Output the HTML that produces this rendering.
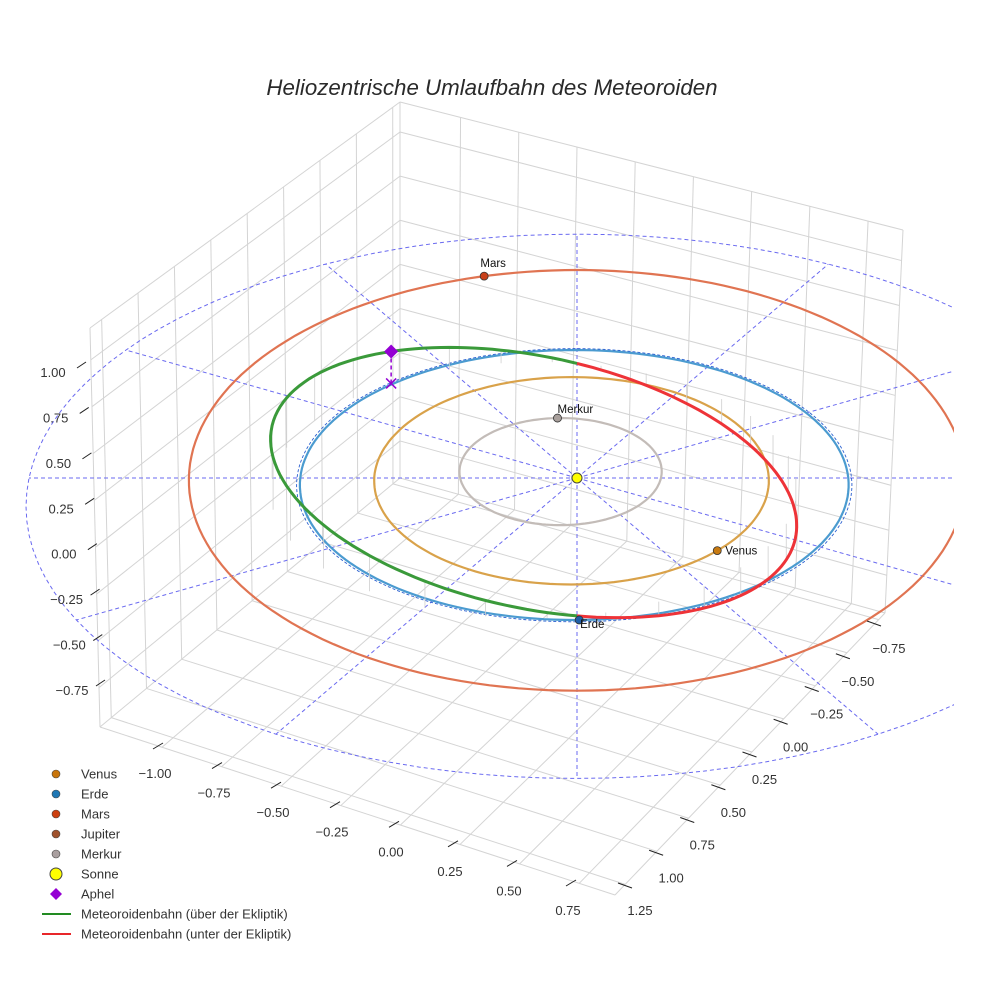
<!DOCTYPE html>
<html><head><meta charset="utf-8">
<style>
html,body{margin:0;padding:0;background:#fff;}
svg{display:block;font-family:"Liberation Sans",Arial,sans-serif;}
</style></head>
<body>
<svg id="chart" width="984" height="984" viewBox="0 0 984 984" xmlns="http://www.w3.org/2000/svg">
<rect width="984" height="984" fill="#fff"/>
<text x="492" y="95" text-anchor="middle" font-size="22.3" font-style="italic" fill="#2a2a2a">Heliozentrische Umlaufbahn des Meteoroiden</text>
<defs><clipPath id="sc"><rect x="0" y="100" width="954" height="800"/></clipPath></defs>
<g id="grid"></g>
<g id="scene" clip-path="url(#sc)"></g>
<g id="axes"></g>
<g id="legend"></g>
</svg>
<script>
// ---- data ----
const xTicks=[-1.00,-0.75,-0.50,-0.25,0.00,0.25,0.50,0.75];
const yTicks=[1.25,1.00,0.75,0.50,0.25,0.00,-0.25,-0.50,-0.75];
const zTicks=[1.00,0.75,0.50,0.25,0.00,-0.25,-0.50,-0.75];
const planetNames=["Merkur","Venus","Erde","Mars"];
const orbitCu=[-0.06,-0.02,-0.01,0.0];
const orbitCv=[-0.056,-0.01,0.0,-0.11];
const orbitRu=[0.37,0.72,1.0,1.42];
const orbitRv=[0.40,0.77,1.0,1.57];
const planetAngle=[-92,44,89,-105];
const orbitColors=["#c3bcb8","#d9a24a","#4b9bd0","#e07452"];
const planetColors=["#a9a09c","#c87a10","#1f5fa8","#c8401a"];
const meteorP=0.93, meteorE=0.17, meteorPeri=15, meteorIncl=15;
const aphelAngle=134;
const refRadius=2.0;
const radialAngles=[0,30,60,90,120,150,180,210,240,270,300,330];
const legendLabels=["Venus","Erde","Mars","Jupiter","Merkur","Sonne","Aphel","Meteoroidenbahn (über der Ekliptik)","Meteoroidenbahn (unter der Ekliptik)"];
const legendColors=["#c8750b","#1f77b4","#cc4010","#a0522d","#aaa0a0","#ffff00","#9400d3","#228b22","#e8262a"];
const xRange=[-1.26,0.9], yRange=[-0.80,1.33], zRange=[-0.96,1.17];

const NS="http://www.w3.org/2000/svg";
function mk(tag,attrs,parent){const e=document.createElementNS(NS,tag);for(const k in attrs)e.setAttribute(k,attrs[k]);parent.appendChild(e);return e;}
function P(u,v,z){const s=1/(1-0.052*v);return [577+274*u*s,478+(134.6*v-182*z)*s];}
function lerp(a,b,t){return [a[0]+(b[0]-a[0])*t,a[1]+(b[1]-a[1])*t];}
const grid=document.getElementById('grid'),scene=document.getElementById('scene'),axes=document.getElementById('axes'),legend=document.getElementById('legend');

const A=[400,102],L=[90,328],R=[903,230],A2=[400,478],L2=[100,727],R2=[885,613],F2=[615,895];
const fx=t=>(t-xRange[0])/(xRange[1]-xRange[0]);
const fy=t=>(yRange[1]-t)/(yRange[1]-yRange[0]);
const fz=t=>(zRange[1]-t)/(zRange[1]-zRange[0]);
function gl(p,q,name){const e=mk('line',{x1:p[0],y1:p[1],x2:q[0],y2:q[1],stroke:'#d4d4d4','stroke-width':1},grid);

}
[[A,L],[A,R],[L,L2],[R,R2],[A,A2],[L2,F2],[F2,R2],[L2,A2],[A2,R2]].forEach(p=>gl(p[0],p[1],'box-edge'));
xTicks.forEach(t=>{const f=fx(t);gl(lerp(A,R,f),lerp(A2,R2,f),'back-wall-x-gridline');gl(lerp(L2,F2,f),lerp(A2,R2,f),'floor-x-gridline');});
zTicks.forEach(t=>{const f=fz(t);gl(lerp(A,A2,f),lerp(R,R2,f),'back-wall-z-gridline');gl(lerp(L,L2,f),lerp(A,A2,f),'left-wall-z-gridline');});
yTicks.forEach(t=>{const f=fy(t);gl(lerp(L,A,f),lerp(L2,A2,f),'left-wall-y-gridline');gl(lerp(L2,A2,f),lerp(F2,R2,f),'floor-y-gridline');});

function tl(x,y,txt,name,ox1,oy1,ox2,oy2,anchor){
 const t=mk('text',{x:x,y:y+5,'text-anchor':anchor,'font-size':13,fill:'#333'},axes);t.textContent=txt;
 
 
 const m=mk('line',{x1:x+ox1,y1:y+oy1,x2:x+ox2,y2:y+oy2,stroke:'#222','stroke-width':1},axes);
 
 }
const fmt=v=>(v<0?'\u2212':'')+Math.abs(v).toFixed(2);
zTicks.forEach(t=>{const p=lerp([53,372],[72,690],(1-t)/1.75);tl(p[0],p[1],fmt(t),'z-tick-label',24,-4,33,-10,'middle');});
xTicks.forEach(t=>{const p=lerp([155,773],[568,910],(t+1)/1.75);tl(p[0],p[1],fmt(t),'x-tick-label',-2,-24,8,-30,'middle');});
yTicks.forEach(t=>{const p=lerp([640,910],[889,648],(1.25-t)/2);tl(p[0],p[1],fmt(t),'y-tick-label',-22,-27,-8,-22,'middle');});

let d='';for(let a=0;a<=360;a+=3){const r=a*Math.PI/180;const p=P(refRadius*Math.cos(r),-refRadius*Math.sin(r),0);d+=(a?'L':'M')+p[0].toFixed(1)+','+p[1].toFixed(1);}
let e=mk('path',{d:d,fill:'none',stroke:'#6a6af0','stroke-width':1,'stroke-dasharray':'4,3'},scene);


radialAngles.forEach(a=>{const r=a*Math.PI/180;const p=P(refRadius*Math.cos(r),-refRadius*Math.sin(r),0);const o=P(0,0,0);
 const l=mk('line',{x1:o[0],y1:o[1],x2:p[0],y2:p[1],stroke:'#6a6af0','stroke-width':1,'stroke-dasharray':'4,3'},scene);
 
 });

function orbitPt(i,deg,k){k=k||1;const t=deg*Math.PI/180;return P(orbitCu[i]+orbitRu[i]*k*Math.cos(t),orbitCv[i]+orbitRv[i]*k*Math.sin(t),0);}
planetNames.forEach((n,i)=>{let d='';for(let a=0;a<=360;a+=2){const p=orbitPt(i,a);d+=(a?'L':'M')+p[0].toFixed(1)+','+p[1].toFixed(1);}
 const o=mk('path',{d:d,fill:'none',stroke:orbitColors[i],'stroke-width':2.2},scene);
 
 });
{let d='';for(let a=0;a<=360;a+=2){const p=orbitPt(2,a,1.012);d+=(a?'L':'M')+p[0].toFixed(1)+','+p[1].toFixed(1);}
 e=mk('path',{d:d,fill:'none',stroke:'#2a5fd0','stroke-width':0.9,'stroke-dasharray':'3,2'},scene);
 
 }

function met(deg){const f=deg*Math.PI/180;const r=meteorP/(1+meteorE*Math.cos(f-meteorPeri*Math.PI/180));const si=Math.sin(meteorIncl*Math.PI/180);
 return {u:r*Math.cos(f),v:-r*Math.sin(f),z:-r*si*Math.cos(f)};}
for(let a=0;a<360;a+=12){const m=met(a);const p=P(m.u,m.v,m.z),q=P(m.u,m.v,0);
 const l=mk('line',{x1:p[0],y1:p[1],x2:q[0],y2:q[1],stroke:'#cfcfcf','stroke-width':0.8},scene);
 
 }
let dg='',dr='';
for(let a=90;a<=270;a+=2){const m=met(a);const p=P(m.u,m.v,m.z);dg+=(a>90?'L':'M')+p[0].toFixed(1)+','+p[1].toFixed(1);}
for(let a=-90;a<=90;a+=2){const m=met(a);const p=P(m.u,m.v,m.z);dr+=(a>-90?'L':'M')+p[0].toFixed(1)+','+p[1].toFixed(1);}
e=mk('path',{d:dg,fill:'none',stroke:'#3a9a3a','stroke-width':3},scene);


e=mk('path',{d:dr,fill:'none',stroke:'#ee3338','stroke-width':3},scene);



{const m=met(aphelAngle);const p=P(m.u,m.v,m.z),q=P(m.u,m.v,0);
 e=mk('line',{x1:p[0],y1:p[1],x2:q[0],y2:q[1],stroke:'#9400d3','stroke-width':1.5,'stroke-dasharray':'4,3'},scene);
 
 
 e=mk('path',{d:`M${q[0]-5},${q[1]-5}L${q[0]+5},${q[1]+5}M${q[0]+5},${q[1]-5}L${q[0]-5},${q[1]+5}`,stroke:'#9400d3','stroke-width':1.5},scene);
 
 
 e=mk('path',{d:`M${p[0]},${p[1]-7}L${p[0]+7},${p[1]}L${p[0]},${p[1]+7}L${p[0]-7},${p[1]}Z`,fill:'#9400d3'},scene);
 
 }

const labelOff=[[0,-5,'start'],[8,4,'start'],[1,8,'start'],[9,-9,'middle']];
planetNames.forEach((n,i)=>{const p=orbitPt(i,planetAngle[i]);
 const c=mk('circle',{cx:p[0],cy:p[1],r:4,fill:planetColors[i],stroke:'#333','stroke-width':0.8},scene);
 
 
 const t=mk('text',{x:p[0]+labelOff[i][0],y:p[1]+labelOff[i][1],'text-anchor':labelOff[i][2],'font-size':11.5,fill:'#111'},scene);
 t.textContent=n;
 
 });
{const o=P(0,0,0);e=mk('circle',{cx:o[0],cy:o[1],r:5,fill:'#ffff00',stroke:'#444','stroke-width':1},scene);
 
 }

legendLabels.forEach((lab,i)=>{const y=774+i*20;
 if(i<6){const m=mk('circle',{cx:56,cy:y,r:i==5?6:4,fill:legendColors[i],stroke:'#444','stroke-width':i==5?1:0.6},legend);
  
  }
 else if(i==6){const m=mk('path',{d:`M56,${y-6}L62,${y}L56,${y+6}L50,${y}Z`,fill:legendColors[i]},legend);
  
  }
 else{const m=mk('line',{x1:42,y1:y,x2:71,y2:y,stroke:legendColors[i],'stroke-width':2},legend);
  
  }
 const t=mk('text',{x:81,y:y+4.5,'font-size':13,fill:'#333'},legend);t.textContent=lab;
 
 });
</script>
</body></html>
